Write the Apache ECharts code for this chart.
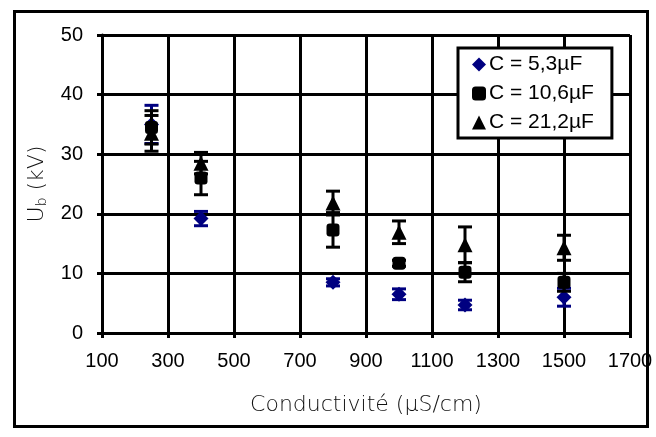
<!DOCTYPE html>
<html><head><meta charset="utf-8">
<script src="https://cdn.jsdelivr.net/npm/echarts@6/dist/echarts.min.js"></script>
<style>html,body{margin:0;padding:0;background:#fff}#c{width:656px;height:437px}</style>
</head><body><div id="c"></div>
<script>
const conductivity = [250, 400, 800, 1000, 1200, 1500];
const names = ['C = 5,3µF', 'C = 10,6µF', 'C = 21,2µF'];
const ub53 = [35.0, 19.2, 8.5, 6.5, 4.7, 6.0];
const err53 = [3.2, 1.2, 0.6, 0.9, 0.8, 1.5];
const ub106 = [34.5, 26.0, 17.3, 11.7, 10.2, 8.5];
const err106 = [2.8, 2.8, 2.9, 0.5, 1.6, 1.5];
const ub212 = [33.5, 28.5, 21.8, 16.9, 14.8, 14.3];
const err212 = [3.0, 1.8, 2.0, 1.9, 3.0, 2.1];
const xTicks = [100, 300, 500, 700, 900, 1100, 1300, 1500, 1700];
const yTicks = [0, 10, 20, 30, 40, 50];

const colors = ['#000080', '#000000', '#000000'];
const symbols = ['diamond', 'roundRect', 'triangle'];
const sizes = [15, 13, 15];
const values = [ub53, ub106, ub212];
const errs = [err53, err106, err212];

function errSeries(idx) {
  return {
    type: 'custom', name: names[idx], z: 2 + idx * 2,
    data: conductivity.map((x, i) => [x, values[idx][i], errs[idx][i]]),
    renderItem: function (params, api) {
      const x = api.value(0), y = api.value(1), e = api.value(2);
      const t = api.coord([x, y + e]), b = api.coord([x, y - e]);
      const st = { stroke: colors[idx], lineWidth: 3 };
      const hw = 7;
      return { type: 'group', children: [
        { type: 'line', shape: { x1: t[0], y1: t[1], x2: b[0], y2: b[1] }, style: st },
        { type: 'line', shape: { x1: t[0] - hw, y1: t[1], x2: t[0] + hw, y2: t[1] }, style: st },
        { type: 'line', shape: { x1: b[0] - hw, y1: b[1], x2: b[0] + hw, y2: b[1] }, style: st }
      ]};
    },
    silent: true
  };
}
function scatterSeries(idx) {
  return {
    type: 'scatter', name: names[idx], z: 3 + idx * 2,
    symbol: symbols[idx], symbolSize: sizes[idx],
    itemStyle: { color: colors[idx], opacity: 1 },
    data: conductivity.map((x, i) => [x, values[idx][i]])
  };
}

const chart = echarts.init(document.getElementById('c'), null, { renderer: 'canvas' });
const tickFont = { fontFamily: 'Liberation Sans, Arial', fontSize: 20, color: '#000' };
chart.setOption({
  animation: false,
  backgroundColor: '#fff',
  grid: { left: 102, right: 26, top: 35, bottom: 104, containLabel: false },
  xAxis: {
    type: 'value', min: xTicks[0], max: xTicks[xTicks.length - 1], interval: 200,
    name: 'Conductivité (µS/cm)', nameLocation: 'middle', nameGap: 61,
    nameTextStyle: { fontFamily: 'DejaVu Sans', fontWeight: 200, fontSize: 22, color: '#111' },
    axisLine: { show: true, onZero: false, lineStyle: { color: '#000', width: 3 } },
    axisTick: { show: true, inside: false, length: 5, lineStyle: { color: '#000', width: 3 } },
    axisLabel: Object.assign({ margin: 18, formatter: v => String(v) }, tickFont),
    splitLine: { show: true, lineStyle: { color: '#000', width: 3 } }
  },
  yAxis: {
    type: 'value', min: yTicks[0], max: yTicks[yTicks.length - 1], interval: 10,
    name: '{a|U}{b|b}{a| (kV)}', nameLocation: 'middle', nameGap: 53, nameRotate: 90,
    nameTextStyle: { rich: {
      a: { fontFamily: 'DejaVu Sans', fontWeight: 200, fontSize: 22, color: '#111' },
      b: { fontFamily: 'DejaVu Sans', fontWeight: 200, fontSize: 14, color: '#111', padding: [10, 0, 0, 0] }
    } },
    axisLine: { show: true, onZero: false, lineStyle: { color: '#000', width: 3 } },
    axisTick: { show: true, inside: false, length: 5, lineStyle: { color: '#000', width: 3 } },
    axisLabel: Object.assign({ margin: 19, formatter: v => String(v) }, tickFont),
    splitLine: { show: true, lineStyle: { color: '#000', width: 3 } }
  },
  legend: {
    orient: 'vertical', left: 458, top: 48,
    data: names.map((n, i) => ({ name: n, icon: symbols[i], itemStyle: { color: colors[i] } })),
    itemWidth: 14, itemHeight: 14, itemGap: 8,
    padding: [6, 18, 5, 14],
    borderColor: '#000', borderWidth: 3, backgroundColor: '#fff',
    textStyle: { fontFamily: 'Liberation Sans, Arial', fontSize: 21, color: '#000', padding: [0, 0, 0, -2] }
  },
  graphic: [{
    type: 'rect', left: 12, top: 9, z: 100, silent: true,
    shape: { width: 633, height: 415 },
    style: { fill: 'none', stroke: '#000', lineWidth: 3 }
  }],
  series: [errSeries(0), scatterSeries(0), errSeries(1), scatterSeries(1), errSeries(2), scatterSeries(2)]
});
</script></body></html>
